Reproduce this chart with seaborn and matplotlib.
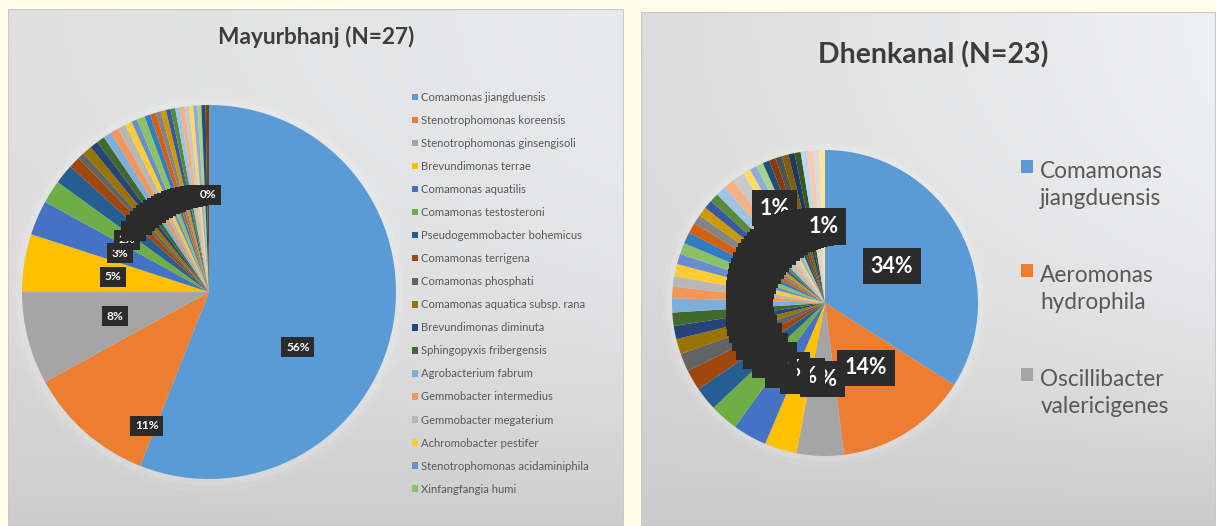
import numpy as np
import matplotlib
matplotlib.use("Agg")
import matplotlib.pyplot as plt
import matplotlib.colors as mcolors
from matplotlib.patches import Rectangle, Circle
from matplotlib.legend_handler import HandlerPatch
import seaborn as sns

sns.set_theme(style="white")
plt.rcParams["font.family"] = ["Lato", "DejaVu Sans"]

# ---- data -----------------------------------------------------------------
mayurbhanj_taxa = [
    "Comamonas jiangduensis", "Stenotrophomonas koreensis",
    "Stenotrophomonas ginsengisoli", "Brevundimonas terrae",
    "Comamonas aquatilis", "Comamonas testosteroni",
    "Pseudogemmobacter bohemicus", "Comamonas terrigena",
    "Comamonas phosphati", "Comamonas aquatica subsp. rana",
    "Brevundimonas diminuta", "Sphingopyxis fribergensis",
    "Agrobacterium fabrum", "Gemmobacter intermedius",
    "Gemmobacter megaterium", "Achromobacter pestifer",
    "Stenotrophomonas acidaminiphila", "Xinfangfangia humi",
]
# relative abundance (%) of every slice, legend order first
mayurbhanj_share = [56, 11, 8, 5, 3, 2, 1.7, 1.0, 0.6, 0.8, 0.7, 0.7, 0.7,
                    0.7, 0.7, 0.6, 0.5, 0.7, 0.5, 0.5, 0.45, 0.45, 0.4, 0.4,
                    0.4, 0.4, 0.4, 0.35, 0.35, 0.35, 0.35, 0.3]

dhenkanal_taxa = ["Comamonas\njiangduensis", "Aeromonas\nhydrophila",
                  "Oscillibacter\nvalericigenes"]
dhenkanal_share = [34, 14, 5.0, 3.4, 3.6, 3.0, 2.5, 2.2, 1.9, 1.6, 1.4, 1.4,
                   1.5, 1.2, 1.1, 1.3, 1.1, 1.2, 1.2, 1.1, 1.0, 1.0, 0.9,
                   0.95, 1.1, 1.1, 1.3, 0.8, 0.75, 0.75, 0.7, 0.7, 0.7, 0.7,
                   0.65, 0.65, 0.65, 0.65, 0.6, 0.65]

# Office theme colour cycle used for the slices
office_cycle = [
    "#5B9BD5", "#ED7D31", "#A5A5A5", "#FFC000", "#4472C4", "#70AD47",
    "#255E91", "#9E480E", "#636363", "#997300", "#264478", "#43682B",
    "#7CAFDD", "#F1975A", "#B7B7B7", "#FFCD33", "#698ED0", "#8CC168",
    "#327DC2", "#D26012", "#848484", "#CC9A00", "#335AA1", "#5A8A39",
    "#9DC3E6", "#F4B183", "#C9C9C9", "#FFD966", "#8FAADC", "#A9D18E",
    "#1F4E79", "#843C0C", "#525252", "#7F6000", "#203864", "#385723",
    "#BDD7EE", "#F8CBAD", "#DBDBDB", "#FFE699", "#B4C7E7", "#C5E0B4",
]
palette = sns.color_palette(office_cycle)

W, H = 1216, 526
fig = plt.figure(figsize=(W / 100, H / 100), dpi=100, facecolor="#FFFCE7")


def px_rect(x0, y0, x1, y1):
    """Figure-fraction rectangle from pixel box (top-left origin)."""
    return [x0 / W, 1 - y1 / H, (x1 - x0) / W, (y1 - y0) / H]


def panel(box, top_left, top_right, bottom):
    ax = fig.add_axes(px_rect(*box), zorder=-10)
    yy, xx = np.mgrid[0:1:240j, 0:1:240j]
    tl, tr, bt = (np.array(mcolors.to_rgb(c)) for c in (top_left, top_right, bottom))
    top = tl * (1 - xx[..., None]) + tr * xx[..., None]
    t = (yy ** 2.2)[..., None]
    img = top * (1 - t) + bt * t
    ax.imshow(img, extent=(0, 1, 0, 1), aspect="auto", origin="upper",
              interpolation="bilinear")
    ax.add_patch(Rectangle((0, 0), 1, 1, fill=False, ec="#c9c9c9", lw=1.5,
                           transform=ax.transAxes))
    ax.axis("off")


panel((8, 9, 624, H), "#dfdfdf", "#e9eaec", "#cdcdcd")
panel((641, 12, W, H), "#dcdcdc", "#eff0f2", "#cbcbcb")


def draw_pie(cx, cy, r, shares, fs, label_r, spots, pad):
    ax = fig.add_axes(px_rect(cx - r, cy - r, cx + r, cy + r))
    for k, a in ((1.07, 0.06), (1.035, 0.12)):
        ax.add_patch(Circle((0, 0), k, fc="white", ec="none", alpha=a,
                            clip_on=False, zorder=0))
    wedges, _ = ax.pie(shares, colors=palette[:len(shares)], startangle=90,
                       counterclock=False, radius=1,
                       wedgeprops=dict(linewidth=0))
    total = float(sum(shares))
    for i, (w, s) in enumerate(zip(wedges, shares)):
        frac, rad = spots.get(i, (0.5, label_r))
        ang = np.deg2rad(w.theta2 - frac * (w.theta2 - w.theta1))
        pct = int(s / total * 100 + 0.5)
        ax.text(rad * np.cos(ang), rad * np.sin(ang), f"{pct}%",
                ha="center", va="center", color="white", fontsize=fs,
                fontweight="bold", zorder=5,
                bbox=dict(boxstyle=f"square,pad={pad}", fc="#2b2b2b",
                          ec="none"))
    ax.set_xlim(-1, 1)
    ax.set_ylim(-1, 1)
    ax.set_aspect("auto")
    ax.axis("off")
    return wedges


# Mayurbhanj
left_wedges = draw_pie(209, 292, 187, mayurbhanj_share, 8.6, 0.52,
                       {0: (0.605, 0.56), 1: (0.086, 0.79)}, 0.38)
fig.text(316 / W, 1 - 37 / H, "Mayurbhanj (N=27)", ha="center", va="center",
         fontsize=16.3, fontweight="bold", color="#3d3d3d")
fig.legend(left_wedges[:len(mayurbhanj_taxa)], mayurbhanj_taxa,
           loc="upper left", bbox_to_anchor=(412 / W, 1 - 92 / H),
           frameon=False, fontsize=8.1, labelcolor="#595959",
           handlelength=0.5, handleheight=0.5, handletextpad=0.3,
           labelspacing=1.07, borderpad=0, borderaxespad=0)


class FirstLineSquare(HandlerPatch):
    """Square legend key aligned with the first line of a wrapped label."""

    def __init__(self, lift, **kw):
        super().__init__(**kw)
        self.lift = lift

    def create_artists(self, legend, orig_handle, xdescent, ydescent, width,
                       height, fontsize, trans):
        p = Rectangle((-xdescent, -ydescent + self.lift * fontsize), width,
                      height, facecolor=orig_handle.get_facecolor(),
                      edgecolor="none", transform=trans)
        return [p]


# Dhenkanal
right_wedges = draw_pie(825, 303, 153, dhenkanal_share, 15.5, 0.5,
                        {28: (0.5, 0.7)}, 0.35)
fig.text(933 / W, 1 - 55 / H, "Dhenkanal (N=23)", ha="center", va="center",
         fontsize=20.5, fontweight="bold", color="#3d3d3d")
key = FirstLineSquare(0.85)
leg = fig.legend(right_wedges[:len(dhenkanal_taxa)], dhenkanal_taxa,
                 loc="upper left", bbox_to_anchor=(1021 / W, 1 - 161 / H),
                 frameon=False, fontsize=16.3, labelcolor="#595959",
                 handlelength=0.55, handleheight=0.55, handletextpad=0.3,
                 labelspacing=2.45, borderpad=0, borderaxespad=0,
                 handler_map={w: key for w in right_wedges[:3]})
for t in leg.get_texts():
    t.set_linespacing(1.38)

fig.savefig("out.png", dpi=100, facecolor=fig.get_facecolor())
